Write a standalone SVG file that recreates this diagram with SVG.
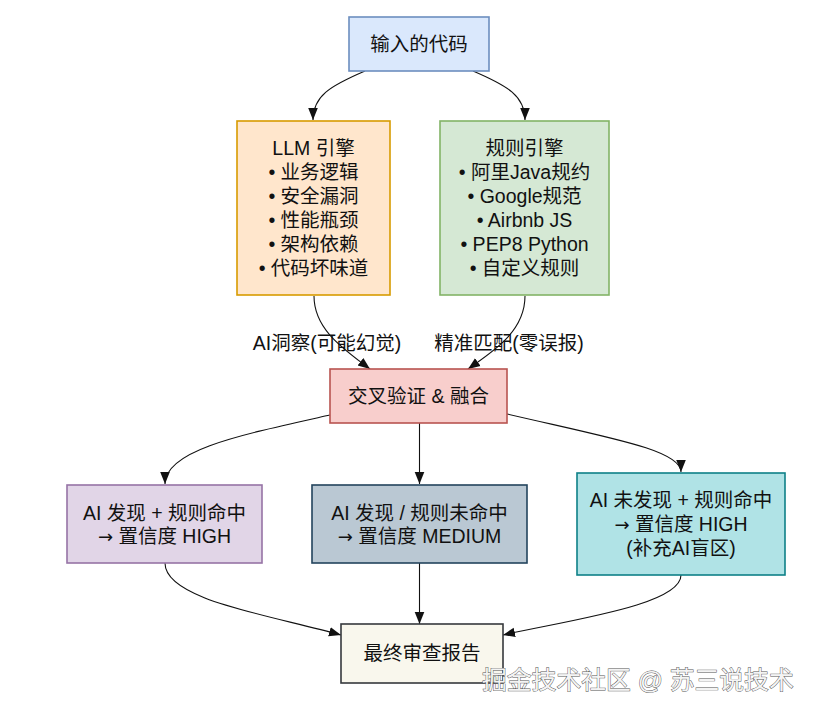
<svg xmlns="http://www.w3.org/2000/svg" width="813" height="713" viewBox="0 0 813 713">
<style>
text{font-family:"Liberation Sans","Noto Sans CJK SC",sans-serif;font-size:19.5px;fill:#111;text-anchor:middle}
rect{stroke-width:1.6}
.edge{fill:none;stroke:#111;stroke-width:1.1}
.lbl{font-size:19.5px}
.ar{font-family:"DejaVu Sans",sans-serif;font-size:18px}
.wm{font-size:24.8px;fill:#f4f4f4;stroke:#555;stroke-width:0.9;paint-order:stroke;text-anchor:start}
</style>
<defs>
<marker id="arr" markerUnits="userSpaceOnUse" markerWidth="12" markerHeight="12" viewBox="0 0 10 10" refX="10" refY="5" orient="auto">
<path d="M0,1 L10,5 L0,9 Z" fill="#111"/>
</marker>
</defs>
<rect width="813" height="713" fill="#fff" stroke="none"/>
<g id="edges">
<path class="edge" d="M365,71 C330,86 313,96 313,120" marker-end="url(#arr)"/>
<path class="edge" d="M473,71 C508,86 525,96 525,120" marker-end="url(#arr)"/>
<path class="edge" d="M314,296 C314,330 345,350 370,369" marker-end="url(#arr)"/>
<path class="edge" d="M525,296 C525,332 492,352 468,369" marker-end="url(#arr)"/>
<path class="edge" d="M330,415 C240,435 165,450 165,484" marker-end="url(#arr)"/>
<path class="edge" d="M419.5,423 L419.5,484" marker-end="url(#arr)"/>
<path class="edge" d="M507,414 C610,438 681,450 681,472" marker-end="url(#arr)"/>
<path class="edge" d="M165,563 C165,600 270,615 341,635" marker-end="url(#arr)"/>
<path class="edge" d="M419.5,563 L419.5,624" marker-end="url(#arr)"/>
<path class="edge" d="M681,575 C681,605 570,620 503,635" marker-end="url(#arr)"/>
<text class="lbl" x="327" y="350">AI洞察(可能幻觉)</text>
<text class="lbl" x="509" y="350">精准匹配(零误报)</text>
</g>
<g id="input">
<rect x="349" y="17" width="140" height="54" fill="#dae8fc" stroke="#6c8ebf"/>
<text x="419" y="51">输入的代码</text>
</g>
<g id="llm">
<rect x="237" y="121" width="153" height="174" fill="#ffe6cc" stroke="#d79b00"/>
<text x="313.5" y="155">LLM 引擎</text>
<text x="313.5" y="179">• 业务逻辑</text>
<text x="313.5" y="203">• 安全漏洞</text>
<text x="313.5" y="227">• 性能瓶颈</text>
<text x="313.5" y="251">• 架构依赖</text>
<text x="313.5" y="275">• 代码坏味道</text>
</g>
<g id="rules">
<rect x="440" y="121" width="169" height="174" fill="#d5e8d4" stroke="#82b366"/>
<text x="524.5" y="155">规则引擎</text>
<text x="524.5" y="179">• 阿里Java规约</text>
<text x="524.5" y="203">• Google规范</text>
<text x="524.5" y="227">• Airbnb JS</text>
<text x="524.5" y="251">• PEP8 Python</text>
<text x="524.5" y="275">• 自定义规则</text>
</g>
<g id="cross">
<rect x="330" y="369" width="177" height="54" fill="#f8cecc" stroke="#b85450"/>
<text x="418.5" y="403">交叉验证 &amp; 融合</text>
</g>
<g id="high1">
<rect x="67" y="485" width="195" height="78" fill="#e1d5e7" stroke="#9673a6"/>
<text x="164.5" y="520">AI 发现 + 规则命中</text>
<text x="164.5" y="543"><tspan class="ar">→</tspan> 置信度 HIGH</text>
</g>
<g id="medium">
<rect x="312" y="485" width="215" height="78" fill="#bac8d3" stroke="#23445d"/>
<text x="419.5" y="520">AI 发现 / 规则未命中</text>
<text x="419.5" y="543"><tspan class="ar">→</tspan> 置信度 MEDIUM</text>
</g>
<g id="high2">
<rect x="577" y="473" width="208" height="102" fill="#b0e3e6" stroke="#0e8088"/>
<text x="681" y="507">AI 未发现 + 规则命中</text>
<text x="681" y="531"><tspan class="ar">→</tspan> 置信度 HIGH</text>
<text x="681" y="555">(补充AI盲区)</text>
</g>
<g id="final">
<rect x="341" y="624" width="162" height="59" fill="#f9f7ed" stroke="#36393d"/>
<text x="422" y="660">最终审查报告</text>
</g>
<text class="wm" x="482" y="689">掘金技术社区 @ 苏三说技术</text>
</svg>
